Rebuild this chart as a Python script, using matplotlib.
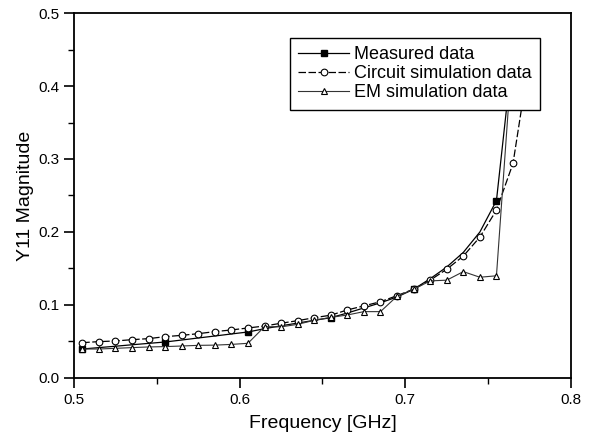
import matplotlib
matplotlib.use("Agg")
import matplotlib.pyplot as plt
from matplotlib.ticker import MultipleLocator, FormatStrFormatter

plt.rcParams['font.family'] = ['Liberation Sans', 'DejaVu Sans']

# Frequency grid (GHz)
freq_measured = [0.505, 0.515, 0.525, 0.535, 0.545, 0.555, 0.565, 0.575, 0.585, 0.595,
                 0.605, 0.615, 0.625, 0.635, 0.645, 0.655, 0.665, 0.675, 0.685, 0.695,
                 0.705, 0.715, 0.725, 0.735, 0.745, 0.755, 0.765]
measured = [0.0397, 0.0416, 0.0435, 0.0455, 0.0474, 0.0493, 0.0520, 0.0548, 0.0575, 0.0603,
            0.0630, 0.0675, 0.0715, 0.0752, 0.0790, 0.0826, 0.0890, 0.0960, 0.1030, 0.1110,
            0.1215, 0.1360, 0.1520, 0.1720, 0.2000, 0.2430, 0.4500]

freq_circuit = [0.505, 0.515, 0.525, 0.535, 0.545, 0.555, 0.565, 0.575, 0.585, 0.595,
                0.605, 0.615, 0.625, 0.635, 0.645, 0.655, 0.665, 0.675, 0.685, 0.695,
                0.705, 0.715, 0.725, 0.735, 0.745, 0.755, 0.765, 0.775]
circuit = [0.0484, 0.0498, 0.0507, 0.0525, 0.0539, 0.0566, 0.0584, 0.0607, 0.0635, 0.0658,
           0.0685, 0.0712, 0.0750, 0.0785, 0.0826, 0.0860, 0.0932, 0.0988, 0.1045, 0.1128,
           0.1217, 0.1340, 0.1490, 0.1670, 0.1930, 0.2300, 0.2940, 0.4400]

freq_em = [0.505, 0.515, 0.525, 0.535, 0.545, 0.555, 0.565, 0.575, 0.585, 0.595,
           0.605, 0.615, 0.625, 0.635, 0.645, 0.655, 0.665, 0.675, 0.685, 0.695,
           0.705, 0.715, 0.725, 0.735, 0.745, 0.755, 0.765]
em = [0.0397, 0.0397, 0.0406, 0.0416, 0.0425, 0.0430, 0.0438, 0.0447, 0.0450, 0.0460,
      0.0475, 0.0703, 0.0700, 0.0735, 0.0790, 0.0830, 0.0863, 0.0909, 0.0909, 0.1120,
      0.1215, 0.1330, 0.1340, 0.1457, 0.1380, 0.1400, 0.4600]

fig = plt.figure(figsize=(5.9, 4.41), dpi=100)
ax = fig.add_axes([0.1254, 0.1429, 0.8424, 0.8276])

ax.plot(freq_measured, measured, '-', color='black', lw=0.9, marker='s', ms=4.5,
        mfc='black', mec='black', markevery=5, label='Measured data')
ax.plot(freq_circuit, circuit, '--', dashes=(6, 2), color='black', lw=0.9, marker='o', ms=4.8,
        mfc='white', mec='black', mew=0.8, label='Circuit simulation data')
ax.plot(freq_em, em, '-', color='#333333', lw=0.8, marker='^', ms=4.8,
        mfc='white', mec='black', mew=0.8, label='EM simulation data')

ax.set_xlim(0.5, 0.8)
ax.set_ylim(0.0, 0.5)
ax.xaxis.set_major_locator(MultipleLocator(0.1))
ax.xaxis.set_minor_locator(MultipleLocator(0.05))
ax.yaxis.set_major_locator(MultipleLocator(0.1))
ax.yaxis.set_minor_locator(MultipleLocator(0.05))
ax.xaxis.set_major_formatter(FormatStrFormatter('%.1f'))
ax.yaxis.set_major_formatter(FormatStrFormatter('%.1f'))
ax.tick_params(which='major', direction='out', length=7, width=1.2, labelsize=11)
ax.tick_params(which='minor', direction='out', length=4, width=1.0)
ax.tick_params(top=False, right=False, which='both')
for s in ax.spines.values():
    s.set_linewidth(1.3)

ax.set_xlabel('Frequency [GHz]', fontsize=14, labelpad=6)
ax.set_ylabel('Y11 Magnitude', fontsize=14, labelpad=3)

leg = ax.legend(loc='upper right', bbox_to_anchor=(0.9376, 0.9315), fontsize=13,
                frameon=True, fancybox=False, edgecolor='black', framealpha=1,
                handlelength=2.8, handletextpad=0.3, borderpad=0.45, labelspacing=0.12,
                borderaxespad=0)
leg.get_frame().set_linewidth(1.0)
leg.set_zorder(10)

fig.savefig('out.png', dpi=100)
